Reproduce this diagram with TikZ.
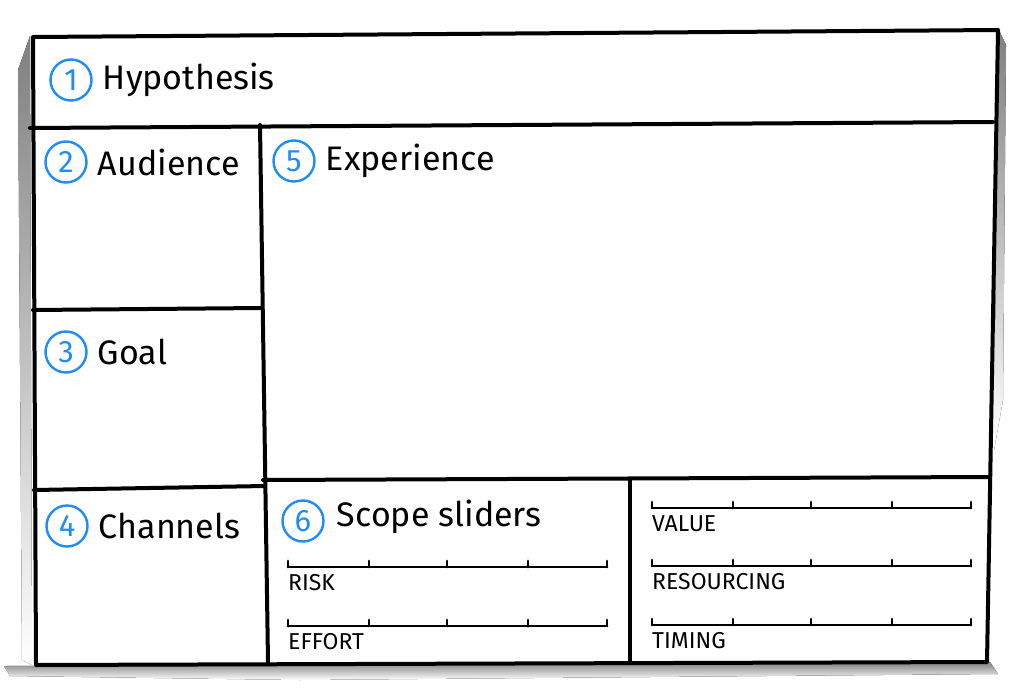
\documentclass[tikz,border=0pt]{standalone}
\usepackage{fontspec}
\setmainfont{Fira Sans}
\usetikzlibrary{positioning}
\definecolor{numblue}{RGB}{30,140,250}
\definecolor{shade}{RGB}{182,206,236}

\tikzset{
	pen/.style={line width=4pt, line join=round, line cap=round},
	num/.style={circle, draw=numblue, text=numblue, line width=2.4pt, minimum size=41pt, inner sep=0pt, font=\fontsize{31}{31}\selectfont},
	head/.style={anchor=west, font=\fontsize{34}{34}\selectfont, inner sep=0pt},
	slab/.style={anchor=north west, font=\fontsize{23}{23}\selectfont, inner sep=0pt},
	bar/.style={line width=2.8pt, line cap=round},
}

% one slider: start point, label below
\newcommand{\slider}[4]{%
	\coordinate (#1a) at (#2,#3);
	\coordinate (#1b) at (#2+319,#3);
	\draw[bar] (#1a) -- (#1b);
	\foreach \t in {0,81,159,240,319}
		\draw[bar] ([xshift=\t pt]#1a) -- ([xshift=\t pt, yshift=6pt]#1a);
	\node[slab, below=7pt of #1a, anchor=north west] (#1l) {#4};
}

\begin{document}
\begin{tikzpicture}[x=1pt, y=-1pt]
	\useasboundingbox (0,0) rectangle (1024,693);
	\fill[white] (0,0) rectangle (1024,693);
	% paper shadow
	\fill[shade] (18,70) -- (30,36) -- (32,665) -- (22,660) -- cycle;
	\fill[shade] (998,28) -- (1006,45) -- (1003,400) -- (994,450) -- cycle;
	\fill[shade] (4,666) -- (990,662) -- (998,674) -- (300,680) -- (10,676) -- cycle;

	% frame
	\coordinate (tl) at (33,37);
	\coordinate (tr) at (998,30);
	\coordinate (br) at (987,662);
	\coordinate (bl) at (36,665);
	\draw[pen] (tl) -- (tr) -- (br) -- (bl) -- cycle;

	% dividers
	\draw[pen] (30,128) -- (993,122);
	\draw[pen] (260,125) -- (268,662);
	\draw[pen] (33,310) -- (262,308);
	\draw[pen] (34,490) -- (265,486);
	\draw[pen] (263,480) -- (990,477);
	\draw[pen] (630,479) -- (630,662);

	% headings
	\node[num] (n1) at (71,80) {1};
	\node[head, right=10pt of n1] (hypothesis) {Hypothesis};
	\node[num] (n2) at (66,162) {2};
	\node[head, right=10pt of n2] (audience) {Audience};
	\node[num] (n3) at (66,352) {3};
	\node[head, right=10pt of n3] (goal) {Goal};
	\node[num] (n4) at (67,526) {4};
	\node[head, right=10pt of n4] (channels) {Channels};
	\node[num] (n5) at (294,161) {5};
	\node[head, right=10pt of n5] (experience) {Experience};
	\node[num] (n6) at (303,521) {6};
	\node[head, right=12pt of n6, yshift=4pt] (scope) {Scope sliders};

	% sliders
	\slider{risk}{288}{567}{RISK}
	\slider{effort}{288}{626}{EFFORT}
	\slider{value}{652}{508}{VALUE}
	\slider{resourcing}{652}{566}{RESOURCING}
	\slider{timing}{652}{625}{TIMING}
\end{tikzpicture}
\end{document}
